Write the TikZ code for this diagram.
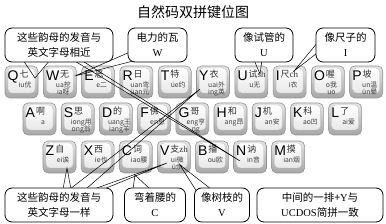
\documentclass[tikz,border=0pt]{standalone}
\usepackage{fontspec}
\setmainfont{Liberation Serif}
\newfontfamily\cjk{Noto Sans CJK SC}
\newfontfamily\keyfont{Liberation Sans}
\usetikzlibrary{calc}
\tikzset{
  keyout/.style={rounded corners=5pt, minimum width=33pt, minimum height=32pt, inner sep=0pt,
    draw=gray!85, line width=0.6pt, top color=gray!20, bottom color=gray!70},
  keyin/.style={rounded corners=4pt, minimum width=27pt, minimum height=25pt, inner sep=0pt,
    draw=gray!45, line width=0.4pt, top color=white, bottom color=gray!18},
  keyletter/.style={font=\keyfont\fontsize{14}{14}\selectfont, inner sep=0pt, anchor=base west,
    text height=10pt, text depth=0pt},
  keychar/.style={font=\cjk\fontsize{9}{9}\selectfont, inner sep=0pt, anchor=base west, text=black!80,
    text height=7pt, text depth=0pt},
  keysub/.style={font=\cjk\fontsize{6.8}{6.8}\selectfont, inner sep=0pt, anchor=base, text=black!75,
    text height=5pt, text depth=0.5pt},
  callout/.style={draw, line width=0.8pt, rounded corners=7pt, fill=white, minimum height=34pt,
    inner sep=0pt, align=center, font=\cjk\fontsize{10.5}{15}\selectfont},
  ptr/.style={line width=0.5pt, black},
}
% #1 name, #2 left, #3 top, #4 letter, #5 char, #6 sub line 1, #7 sub line 2
\newcommand\mykey[7]{%
  \node[keyout] (k#1) at (#2+16.5,#3+16) {};
  \node[keyin] (k#1f) at (#2+16.5,#3+14.5) {};
  \node[keyletter] (k#1L) at (#2+2.5,#3+15) {#4};
  \node[keychar] (k#1C) at ($(k#1L.base east)+(0.6,-3)$) {#5};
  \node[keysub] (k#1S) at (#2+20,#3+22) {#6};
  \node[keysub] (k#1T) at (#2+20,#3+28.8) {#7};
}
\begin{document}
\begin{tikzpicture}[x=1pt,y=-1pt]
\useasboundingbox (0,0) rectangle (386,224);
\fill[white] (0,0) rectangle (386,224);
\node[font=\cjk\fontsize{14}{14}\selectfont, inner sep=0pt] (title) at (193,12) {自然码双拼键位图};

% row 1
\mykey{Q}{5}{66}{Q}{七}{iu优}{}
\mykey{W}{43.3}{66}{W}{无}{ua挖}{ia呀}
\mykey{E}{81.6}{66}{E}{恶}{e二}{}
\mykey{R}{119.9}{66}{R}{日}{uan弯}{üan元}
\mykey{T}{158.2}{66}{T}{特}{üe约}{}
\mykey{Y}{196.5}{66}{Y}{衣}{uai外}{ing英}
\mykey{U}{234.8}{66}{U}{试{\fontspec{Liberation Serif}sh}}{u无}{}
\mykey{I}{273.1}{66}{I}{尺{\fontspec{Liberation Serif}ch}}{i衣}{}
\mykey{O}{311.4}{66}{O}{喔}{o我}{uo}
\mykey{P}{349.7}{66}{P}{坡}{un温}{ün晕}
% row 2
\mykey{A}{23}{103}{A}{啊}{a}{}
\mykey{S}{61.2}{103}{S}{思}{iong用}{ong翁}
\mykey{D}{99.4}{103}{D}{的}{uang王}{iang羊}
\mykey{F}{137.6}{103}{F}{佛}{en恩}{}
\mykey{G}{175.8}{103}{G}{哥}{eng亨}{ng}
\mykey{H}{214}{103}{H}{和}{ang昂}{}
\mykey{J}{252.2}{103}{J}{机}{an安}{}
\mykey{K}{290.4}{103}{K}{科}{ao凹}{}
\mykey{L}{328.6}{103}{L}{了}{ai爱}{}
% row 3
\mykey{Z}{43}{141}{Z}{自}{ei诶}{}
\mykey{X}{81.1}{141}{X}{西}{ie也}{}
\mykey{C}{119.2}{141}{C}{词}{iao腰}{}
\mykey{V}{157.3}{141}{V}{支{\fontspec{Liberation Serif}zh}}{ui微}{ü余}
\mykey{B}{195.4}{141}{B}{播}{ou欧}{}
\mykey{N}{233.5}{141}{N}{讷}{in音}{}
\mykey{M}{271.6}{141}{M}{摸}{ian烟}{}

% pointer coordinates
\coordinate (tQ) at (35,78);
\coordinate (tN) at (240,161);
\coordinate (tW) at (75,76);
\coordinate (tU) at (260,74);
\coordinate (tI) at (294,71);
\coordinate (tZ) at (67,168);
\coordinate (tY) at (200,89);
\coordinate (tVu) at (167,163);
\coordinate (tC) at (135,175);
\coordinate (tV) at (180,165);

\coordinate (a1) at (23,60); \coordinate (a2) at (50,60);
\coordinate (a3) at (73,60); \coordinate (a4) at (81,60);
\coordinate (b1) at (130,52); \coordinate (b2) at (137,60);
\coordinate (u1) at (254,60); \coordinate (u2) at (262,60);
\coordinate (i1) at (318,42); \coordinate (i2) at (321,50);
\coordinate (z1) at (63,189); \coordinate (z2) at (71,189);
\coordinate (y1) at (70,189); \coordinate (y2) at (86,189);
\coordinate (w1) at (94,189); \coordinate (w2) at (104,189);
\coordinate (c1) at (133,189); \coordinate (c2) at (150,189);
\coordinate (v1) at (197,192); \coordinate (v2) at (211,189);

\draw[ptr] (a1) -- (tQ) -- (a2);
\draw[ptr] (a3) -- (tN) -- (a4);
\draw[ptr] (b1) -- (tW) -- (b2);
\draw[ptr] (u1) -- (tU) -- (u2);
\draw[ptr] (i1) -- (tI) -- (i2);
\draw[ptr] (z1) -- (tZ) -- (z2);
\draw[ptr] (y1) -- (tY) -- (y2);
\draw[ptr] (w1) -- (tVu) -- (w2);
\draw[ptr] (c1) -- (tC) -- (c2);
\draw[ptr] (v1) -- (tV) -- (v2);

% callouts
\node[callout, minimum width=108pt] (n1) at (59,45) {这些韵母的发音与\\英文字母相近};
\node[callout, minimum width=59pt] (n2) at (157.5,45) {电力的瓦\\{\fontspec{Liberation Serif}W}};
\node[callout, minimum width=58pt] (n3) at (264,45) {像试管的\\{\fontspec{Liberation Serif}U}};
\node[callout, minimum width=59pt] (n4) at (345.5,45) {像尺子的\\{\fontspec{Liberation Serif}I}};
\node[callout, minimum width=108pt] (n5) at (59,205) {这些韵母的发音与\\英文字母一样};
\node[callout, minimum width=61pt] (n6) at (155,205) {弯着腰的\\{\fontspec{Liberation Serif}C}};
\node[callout, minimum width=55pt] (n7) at (222,205) {像树枝的\\{\fontspec{Liberation Serif}V}};
\node[callout, minimum width=126pt] (n8) at (320,205) {中间的一排+{\fontspec{Liberation Serif}Y}与\\{\fontspec{Liberation Serif}UCDOS}简拼一致};
\end{tikzpicture}
\end{document}
